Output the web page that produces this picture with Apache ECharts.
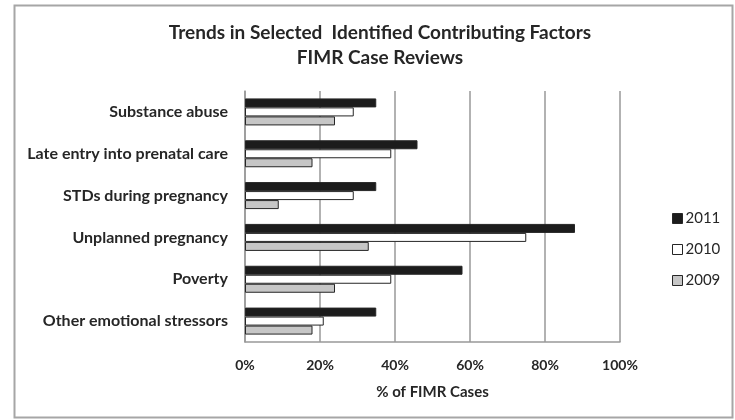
<!DOCTYPE html>
<html>
<head>
<meta charset="utf-8">
<script src="https://cdn.jsdelivr.net/npm/echarts@6/dist/echarts.min.js"></script>
<style>
html,body{margin:0;padding:0;background:#fff;}
#c{width:735px;height:420px;}
</style>
</head>
<body>
<div id="c"></div>
<script>
const categories = ['Substance abuse','Late entry into prenatal care','STDs during pregnancy','Unplanned pregnancy','Poverty','Other emotional stressors'];
const seriesNames = ['2011','2010','2009'];
const values2011 = [35, 46, 35, 88, 58, 35];
const values2010 = [29, 39, 29, 75, 39, 21];
const values2009 = [24, 18, 9, 33, 24, 18];
const xTicks = [0, 20, 40, 60, 80, 100];

const chart = echarts.init(document.getElementById('c'), null, {renderer:'canvas'});
const font = 'Lato, "Liberation Sans", sans-serif';
const fills = ['#1c1c1c', '#ffffff', '#c6c6c6'];
const data = [values2011, values2010, values2009];

chart.setOption({
  animation: false,
  backgroundColor: '#fff',
  title: {
    text: 'Trends in Selected  Identified Contributing Factors\nFIMR Case Reviews',
    left: 375, top: 15, textAlign: 'center',
    textStyle: {fontFamily: font, fontWeight: 'bold', fontSize: 19, color: '#262626', lineHeight: 25}
  },
  graphic: [{
    type: 'rect', shape: {x: 14.5, y: 5.5, width: 718, height: 412},
    style: {fill: 'none', stroke: '#a6a6a6', lineWidth: 2}, silent: true
  }],
  legend: {
    orient: 'vertical', left: 667, top: 206, itemWidth: 10, itemHeight: 10, itemGap: 16,
    icon: 'rect',
    textStyle: {fontFamily: font, fontSize: 15, color: '#262626', padding: [0,0,0,-2]},
    data: seriesNames.map((n, i) => ({name: n, itemStyle: {color: fills[i], borderColor: '#262626', borderWidth: 1}}))
  },
  grid: {left: 245, right: 115, top: 91, bottom: 78, containLabel: false},
  xAxis: {
    type: 'value', min: xTicks[0], max: xTicks[xTicks.length-1], interval: 20,
    name: '% of FIMR Cases', nameLocation: 'middle', nameGap: 43,
    nameTextStyle: {fontFamily: font, fontWeight: 'bold', fontSize: 15, color: '#262626'},
    axisLine: {show: true, lineStyle: {color: '#999', width: 1.5}},
    axisTick: {show: false},
    axisLabel: {formatter: '{value}%', margin: 16, fontFamily: font, fontWeight: 'bold', fontSize: 14, color: '#262626'},
    splitLine: {show: true, lineStyle: {color: '#999', width: 1.5}}
  },
  yAxis: {
    type: 'category', data: categories, inverse: true,
    axisLine: {show: true, lineStyle: {color: '#999', width: 1.5}},
    axisTick: {show: false},
    axisLabel: {margin: 17, fontFamily: font, fontWeight: 'bold', fontSize: 16, color: '#262626'}
  },
  series: seriesNames.map((n, i) => ({
    name: n, type: 'bar', data: data[i], barWidth: 9, barGap: '0%',
    itemStyle: {color: fills[i], borderColor: '#262626', borderWidth: 1}
  }))
});
</script>
</body>
</html>
